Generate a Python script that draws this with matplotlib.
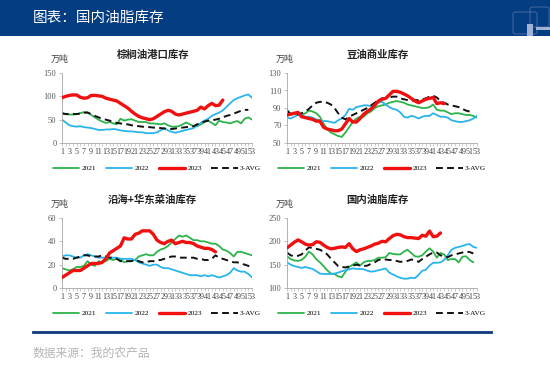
import matplotlib
matplotlib.use("Agg")
import matplotlib.pyplot as plt
from matplotlib.patches import Rectangle, FancyBboxPatch
import numpy as np

plt.rcParams['font.family'] = ['Liberation Serif', 'Noto Sans CJK SC', 'DejaVu Sans']

W, H = 550, 371
weeks = list(range(1, 54))
xtick_labels = [str(w) for w in range(1, 54, 2)]
series_names = ["2021", "2022", "2023", "3-AVG"]

# ---- 棕榈油港口库存 ----
palm_2021 = [63, 62, 61, 61, 62, 64, 66, 66, 60, 55, 50, 46, 43, 45, 42, 40, 52, 48, 50, 51,
             48, 45, 45, 45, 42, 42, 41, 40, 42, 38, 35, 35, 36, 40, 44, 40, 36, 36, 40, 45,
             48, 43, 38, 48, 45, 44, 42, 45, 47, 42, 52, 55, 50]
palm_2022 = [50, 44, 38, 36, 35, 36, 34, 33, 32, 30, 28, 28, 29, 29, 30, 29, 27, 26, 25, 25,
             24, 23, 23, 21, 21, 21, 23, 27, 32, 27, 24, 22, 24, 26, 28, 30, 32, 38, 43, 48,
             52, 58, 62, 65, 70, 77, 85, 92, 96, 99, 102, 104, 97]
palm_2023 = [97, 100, 102, 103, 103, 98, 96, 97, 102, 102, 101, 100, 96, 94, 92, 90, 85, 80, 75, 68,
             62, 57, 54, 52, 50, 52, 57, 62, 67, 70, 68, 62, 60, 62, 64, 66, 68, 70, 77, 73,
             80, 85, 80, 81, 92]
palm_avg = [64, 62, 62, 62, 62, 63, 65, 65, 62, 58, 55, 52, 50, 48, 45, 43, 42, 40, 40, 38,
            37, 36, 35, 34, 34, 33, 33, 32, 31, 30, 30, 31, 32, 33, 34, 35, 36, 40, 43, 46,
            48, 49, 50, 52, 55, 58, 60, 63, 66, 69, 71, 71]

# ---- 豆油商业库存 ----
soy_2021 = [88, 83, 83, 84, 82, 84, 87, 86, 84, 80, 72, 66, 62, 60, 58, 57, 62, 68, 74, 78,
            80, 80, 84, 86, 90, 92, 93, 94, 96, 97, 98, 97, 96, 94, 93, 92, 91, 90, 90, 91,
            94, 88, 87, 87, 85, 83, 84, 84, 83, 82, 82, 81, 79]
soy_2022 = [79, 78, 80, 82, 82, 80, 80, 79, 77, 76, 75, 75, 74, 73, 76, 78, 82, 89, 88, 91,
            92, 93, 93, 92, 95, 96, 97, 94, 91, 89, 88, 85, 80, 79, 81, 80, 78, 80, 81, 81,
            84, 82, 80, 80, 79, 76, 75, 74, 74, 75, 76, 78, 81]
soy_2023 = [82, 83, 84, 85, 80, 79, 78, 77, 75, 75, 68, 66, 65, 64, 64, 66, 72, 78, 74, 74,
            78, 83, 86, 89, 93, 98, 100, 101, 105, 109, 109, 108, 106, 104, 101, 98, 96, 98, 100, 101,
            102, 95, 96, 95]
soy_avg = [87, 83, 82, 83, 84, 86, 89, 93, 96, 97, 97, 96, 94, 90, 84, 79, 77, 80, 82, 84,
           86, 88, 90, 93, 96, 99, 101, 101, 102, 103, 103, 101, 100, 99, 98, 99, 99, 100, 101, 103,
           104, 102, 98, 96, 94, 93, 92, 91, 89, 87, 86, 86]

# ---- 沿海+华东菜油库存 ----
rape_2021 = [17, 16, 15, 16, 18, 18, 19, 23, 20, 19, 23, 22, 23, 25, 24, 25, 25, 22, 23, 23,
             24, 27, 28, 29, 28, 28, 31, 33, 34, 36, 39, 42, 45, 44, 45, 43, 41, 41, 40, 40,
             39, 38, 38, 36, 33, 32, 30, 27, 31, 31, 30, 29, 28]
rape_2022 = [27, 28, 28, 27, 26, 26, 28, 29, 28, 27, 26, 26, 26, 26, 26, 26, 25, 25, 25, 25,
             24, 22, 21, 20, 19, 20, 20, 18, 17, 17, 16, 15, 14, 13, 12, 11, 11, 11, 10, 11,
             10, 11, 10, 9, 10, 11, 13, 17, 15, 14, 14, 12, 9]
rape_2023 = [9, 11, 13, 15, 15, 15, 17, 19, 21, 21, 21, 22, 25, 30, 32, 34, 36, 43, 42, 42,
             46, 47, 49, 49, 49, 46, 41, 39, 38, 40, 41, 38, 39, 40, 39, 39, 38, 36, 35, 34,
             34, 33, 31]
rape_avg = [26, 25, 25, 25, 26, 27, 28, 28, 27, 27, 27, 28, 27, 26, 26, 25, 23, 23, 23, 23,
            24, 23, 22, 22, 23, 23, 24, 24, 25, 26, 27, 27, 26, 26, 26, 26, 26, 25, 25, 24,
            24, 25, 28, 26, 25, 24, 23, 22, 22, 21, 20, 19, 17]

# ---- 国内油脂库存 ----
dom_2021 = [168, 162, 159, 158, 160, 167, 178, 172, 162, 155, 147, 138, 131, 130, 125, 123, 135, 145, 150, 155,
            148, 155, 158, 158, 160, 165, 165, 166, 175, 173, 172, 172, 178, 182, 175, 168, 167, 170, 178, 185,
            178, 165, 175, 172, 160, 162, 162, 155, 167, 168, 160, 155]
dom_2022 = [155, 150, 147, 145, 143, 145, 143, 141, 136, 131, 130, 130, 130, 131, 133, 136, 138, 140, 142, 141,
            141, 140, 137, 135, 136, 138, 140, 142, 133, 129, 125, 122, 120, 120, 122, 121, 128, 137, 139, 148,
            154, 154, 155, 160, 170, 182, 186, 188, 190, 193, 194, 188, 186]
dom_2023 = [186, 192, 198, 203, 199, 194, 192, 193, 199, 198, 192, 187, 184, 185, 187, 188, 187, 195, 184, 178,
            182, 184, 187, 190, 194, 196, 200, 199, 206, 212, 215, 214, 210, 208, 208, 207, 206, 213, 211, 222,
            210, 211, 218]
dom_avg = [176, 170, 168, 169, 172, 180, 187, 186, 184, 182, 178, 172, 163, 155, 147, 145, 144, 146, 148, 150,
           148, 147, 148, 152, 155, 160, 162, 161, 160, 160, 158, 156, 157, 158, 161, 160, 156, 162, 167, 172,
           176, 176, 170, 168, 166, 170, 172, 174, 176, 178, 177, 174]

charts = [
    dict(title="棕榈油港口库存", data=[palm_2021, palm_2022, palm_2023, palm_avg],
         ylim=(0, 150), yticks=[0, 50, 100, 150], box=(62, 252, 73, 143), tx=153, ty=55),
    dict(title="豆油商业库存", data=[soy_2021, soy_2022, soy_2023, soy_avg],
         ylim=(50, 130), yticks=[50, 70, 90, 110, 130], box=(287, 477, 73, 143), tx=378, ty=55),
    dict(title="沿海+华东菜油库存", data=[rape_2021, rape_2022, rape_2023, rape_avg],
         ylim=(0, 60), yticks=[0, 20, 40, 60], box=(62, 252, 218, 288), tx=152, ty=200),
    dict(title="国内油脂库存", data=[dom_2021, dom_2022, dom_2023, dom_avg],
         ylim=(100, 250), yticks=[100, 150, 200, 250], box=(287, 477, 218, 288), tx=377, ty=200),
]

styles = [
    dict(color="#2DB34A", lw=1.3, ls="-"),
    dict(color="#2AB4EC", lw=1.3, ls="-"),
    dict(color="#F01010", lw=2.4, ls="-"),
    dict(color="#111111", lw=1.4, ls=(0, (3.5, 2.2))),
]

fig = plt.figure(figsize=(W / 100, H / 100), dpi=100)

# header band
fig.patches.append(Rectangle((0, 1 - 36 / H), 1, 36 / H, transform=fig.transFigure,
                             facecolor="#053D82", edgecolor="none", zorder=0))
fig.text(33 / W, 1 - 18 / H, "图表：国内油脂库存", color="white", fontsize=10.5,
         family=["Noto Sans CJK SC"], va="center", ha="left")
# logo
fig.patches.append(FancyBboxPatch((513 / W, 1 - 34 / H), 24 / W, 22 / H, transform=fig.transFigure,
                                  boxstyle="round,pad=0,rounding_size=0.005",
                                  facecolor="none", edgecolor="#4F70A8", lw=0.6))
fig.patches.append(FancyBboxPatch((530 / W, 1 - 27 / H), 19 / W, 20 / H, transform=fig.transFigure,
                                  boxstyle="round,pad=0,rounding_size=0.005",
                                  facecolor="none", edgecolor="#4F70A8", lw=0.6))
fig.patches.append(Rectangle((527 / W, 1 - 36 / H), 6 / W, 12 / H, transform=fig.transFigure,
                             facecolor="#9FB2D6", edgecolor="none"))
fig.patches.append(Rectangle((536 / W, 1 - 30 / H), 14 / W, 3.5 / H, transform=fig.transFigure,
                             facecolor="#9FB2D6", edgecolor="none"))

for ch in charts:
    l, r, t, b = ch["box"]
    ax = fig.add_axes([l / W, 1 - b / H, (r - l) / W, (b - t) / H])
    for s, vals in enumerate(ch["data"]):
        st = styles[s]
        ax.plot(weeks[:len(vals)], vals, color=st["color"], lw=st["lw"], ls=st["ls"],
                label=series_names[s], solid_capstyle="round", zorder=3 if s == 2 else 2)
    ax.set_xlim(1, 53)
    ax.set_ylim(*ch["ylim"])
    ax.set_yticks(ch["yticks"])
    ax.set_xticks(range(1, 54, 2))
    ax.set_xticklabels(xtick_labels)
    ax.set_xticks(range(1, 54), minor=True)
    for sp in ["top", "right"]:
        ax.spines[sp].set_visible(False)
    for sp in ["left", "bottom"]:
        ax.spines[sp].set_color("#A6A6A6")
        ax.spines[sp].set_linewidth(0.6)
    ax.tick_params(axis="y", labelsize=6, colors="#595959", length=2, width=0.5, pad=2,
                   color="#A6A6A6")
    ax.tick_params(axis="x", which="both", labelsize=5.8, colors="#404040", length=2,
                   width=0.4, pad=1.5, color="#A6A6A6")
    ax.set_facecolor("none")
    fig.text(ch["tx"] / W, 1 - ch["ty"] / H, ch["title"], fontsize=7.5, fontweight="bold",
             family=["Noto Sans CJK SC"], ha="center", va="center", color="#222222")
    fig.text((l - 2) / W, 1 - (t - 14) / H, "万吨", fontsize=6.5, family=["Noto Sans CJK SC"],
             ha="center", va="center", color="#404040")
    leg = ax.legend(loc="center", bbox_to_anchor=((l + r) / 2 / W, 1 - (b + 25) / H),
                    bbox_transform=fig.transFigure, ncol=4, frameon=False, fontsize=5.3,
                    handlelength=3.6, columnspacing=1.3, handletextpad=0.3, borderpad=0)

# bottom rule and source
fig.add_artist(plt.Line2D([33 / W, 491 / W], [1 - 332 / H, 1 - 332 / H], transform=fig.transFigure,
                          color="#0B3A7A", lw=2.0))
fig.text(33 / W, 1 - 353 / H, "数据来源：我的农产品", fontsize=8.5, color="#B5B5B5",
         family=["Noto Sans CJK SC"], ha="left", va="center")

fig.savefig("out.png", dpi=100)
